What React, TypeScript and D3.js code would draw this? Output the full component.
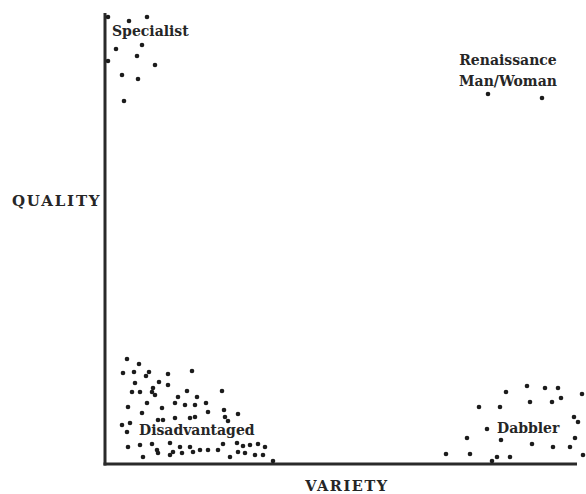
import React from "react";
import * as d3 from "d3";

type Pt = [number, number];

// variety (x) / quality (y) values, in arbitrary units
const specialist: Pt[] = [
  [0.75, 89.4], [6, 88.6], [10.5, 89.4], [2.75, 83], [9.25, 83.8], [8, 81.6],
  [0.75, 80.6], [12.5, 79.8], [4.25, 77.8], [8.25, 77], [4.75, 72.6],
];

const renaissance: Pt[] = [[95.75, 74], [109.25, 73.2]];

const dabbler: Pt[] = [
  [105.5, 15.6], [110, 15.2], [113.25, 15.2], [119.25, 14], [100.25, 14.4], [114, 13.2],
  [106.25, 12.4], [111.75, 12.4], [93.5, 11.4], [98.75, 11.4], [117.25, 9.4], [118.25, 8.4],
  [95.5, 7], [117.5, 5.2], [90.5, 5.2], [99, 4.8], [106.75, 4], [112, 3.4], [116.25, 3.4],
  [85.25, 2], [91.25, 2], [101.25, 1.4], [98, 1.4], [96.75, 0.6], [119.5, 1.8],
];

const disadvantaged: Pt[] = [
  [5.5, 21], [8.5, 20], [4.5, 18.2], [7.25, 18.4], [10.25, 17.6], [11, 18.4], [15.75, 18],
  [21.75, 18.6], [7.5, 16.2], [13.5, 16.4], [15.75, 15.8], [6.75, 14.4], [8.75, 14.4],
  [11.75, 14.4], [12.5, 13.8], [12, 15.2], [18.25, 13.4], [20.5, 14.6], [23, 13.4],
  [29.25, 14.6], [25.25, 12.2], [25.75, 10.4], [29.75, 10.8], [33.25, 10], [30, 9.4],
  [30.75, 8.6], [5.75, 11.4], [10.5, 12.2], [17.5, 12.2], [20, 11.8], [22.5, 11.8],
  [9.25, 10.2], [14.25, 11.2], [13.25, 8.8], [14.5, 8.8], [17.5, 9.2], [21.25, 9.2],
  [22.5, 9.4], [4.25, 7.8], [6.25, 8.2], [5.5, 6.4], [5.75, 3.4], [8.75, 3.8], [11.75, 4],
  [13, 2.8], [16.25, 4.2], [17, 2.4], [18.75, 3.4], [19.25, 2.2], [21.25, 3.4], [9.5, 1.4],
  [22, 2.4], [33, 4.2], [34.5, 3.6], [36.25, 3.8], [38.25, 4], [23.75, 2.8], [25.75, 2.8],
  [28.25, 2.8], [29.5, 4], [33.25, 2.4], [31.25, 1.4], [35, 2.2], [37.5, 1.8], [39.5, 1.8],
  [42, 0.6], [13.25, 2.2], [16.25, 1.8], [40, 3.4],
];

const xTitle = "VARIETY";
const yTitle = "QUALITY";

export default function App() {
  const W = 586;
  const H = 494;
  const x = d3.scaleLinear().domain([0, 120]).range([105, 585]);
  const y = d3.scaleLinear().domain([0, 90]).range([464, 14]);
  const all = [...specialist, ...renaissance, ...dabbler, ...disadvantaged];
  const ink = "#1c1c1c";
  const font = "'DejaVu Serif', 'Liberation Serif', serif";

  return (
    <svg
      width={W}
      height={H}
      style={{ position: "absolute", left: 0, top: 0, background: "#fff" }}
    >
      <rect width={W} height={H} fill="#fff" />
      <line x1={x(0)} x2={x(0)} y1={y(0) + 1.5} y2={y(90.2)} stroke="#2a2a2a" strokeWidth={3} />
      <line x1={x(0) - 1.5} x2={x(118)} y1={y(0)} y2={y(0)} stroke="#2a2a2a" strokeWidth={3} />
      {all.map((d, i) => (
        <circle key={i} cx={x(d[0])} cy={y(d[1])} r={2.3} fill={ink} />
      ))}
      <g fontFamily={font} fontWeight="bold" fill="#262626" fontSize={14}>
        <text x={x(1.75)} y={y(85.6)}>Specialist</text>
        <text x={x(100.75)} y={y(79.8)} textAnchor="middle">Renaissance</text>
        <text x={x(100.75)} y={y(75.6)} textAnchor="middle">Man/Woman</text>
        <text x={x(8.5)} y={y(5.8)}>Disadvantaged</text>
        <text x={x(98)} y={y(6.2)}>Dabbler</text>
      </g>
      <text x={12} y={206} fontFamily={font} fontWeight="bold" fontSize={15} letterSpacing={1.8} fill="#262626">
        {yTitle}
      </text>
      <text x={347} y={491} textAnchor="middle" fontFamily={font} fontWeight="bold" fontSize={14.5} letterSpacing={1.6} fill="#262626">
        {xTitle}
      </text>
    </svg>
  );
}
